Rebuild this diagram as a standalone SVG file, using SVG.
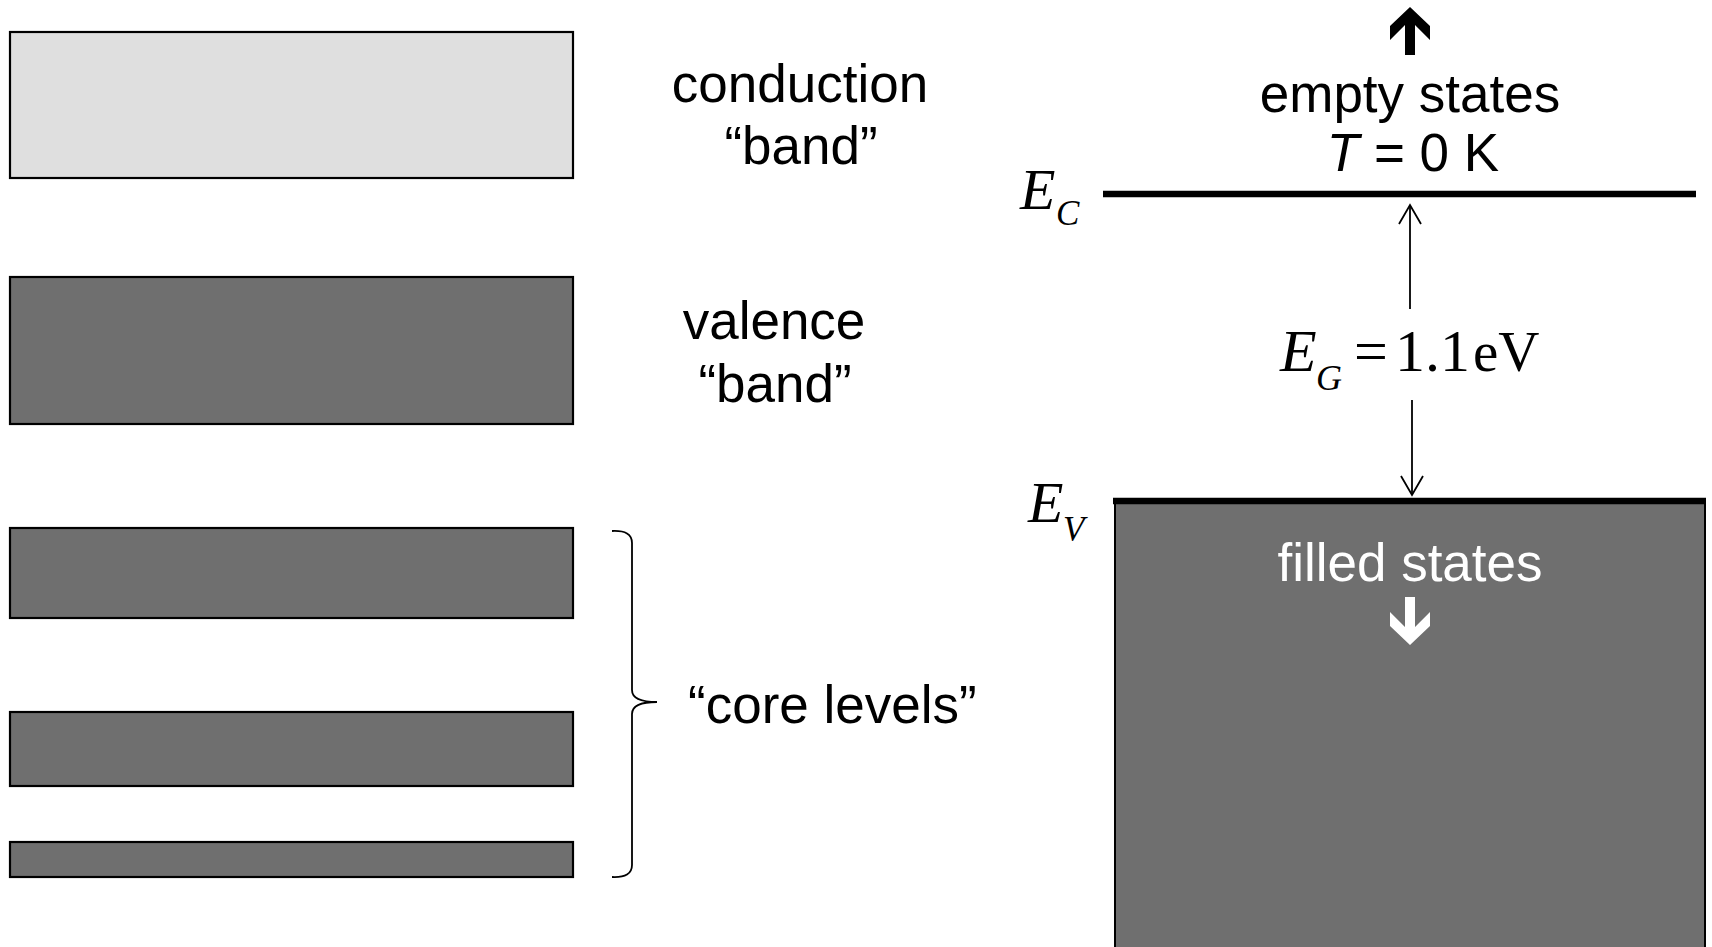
<svg xmlns="http://www.w3.org/2000/svg" width="1712" height="947" viewBox="0 0 1712 947">
<style>
.band{stroke:#000;stroke-width:2.2}
.light{fill:#dfdfdf}
.dark{fill:#6f6f6f}
.lbl{font-family:"Liberation Sans",Arial,sans-serif;font-size:53px;fill:#000}
.math{font-family:"Liberation Serif","Times New Roman",serif;fill:#000}
.thin{stroke:#000;stroke-width:1.8;fill:none}
</style>
<rect width="1712" height="947" fill="#fff"/>
<g id="conduction-band">
<rect class="band light" x="10" y="32" width="563" height="146"/>
<text class="lbl" x="800" y="102" text-anchor="middle">conduction</text>
<text class="lbl" x="801" y="164" text-anchor="middle">“band”</text>
</g>
<g id="valence-band">
<rect class="band dark" x="10" y="277" width="563" height="147"/>
<text class="lbl" x="774" y="339" text-anchor="middle">valence</text>
<text class="lbl" x="775" y="402" text-anchor="middle">“band”</text>
</g>
<g id="core-levels">
<rect class="band dark" x="10" y="528" width="563" height="90"/>
<rect class="band dark" x="10" y="712" width="563" height="74"/>
<rect class="band dark" x="10" y="842" width="563" height="35"/>
<path class="thin" stroke-width="2.2" d="M612,531 Q632,530 632,543 L632,690 Q632,702 657,702 Q632,702 632,714 L632,865 Q632,878 612,877"/>
<text class="lbl" x="688" y="723">“core levels”</text>
</g>
<g id="valence-fill">
<rect class="dark" x="1115" y="503" width="590" height="460" stroke="#000" stroke-width="2"/>
<line x1="1113" y1="501" x2="1706" y2="501" stroke="#000" stroke-width="6.5"/>
<text class="lbl" x="1410" y="581" text-anchor="middle" style="fill:#fff">filled states</text>
<polygon fill="#fff" points="1410,645 1430,626 1430,612 1415,627 1415,597 1405,597 1405,627 1390,612 1390,626"/>
</g>
<g id="ec-level">
<line x1="1103" y1="194" x2="1696" y2="194" stroke="#000" stroke-width="6.5"/>
<text class="math" font-style="italic" font-size="58" x="1020" y="209">E</text>
<text class="math" font-style="italic" font-size="35" x="1056" y="225">C</text>
</g>
<g id="ev-label">
<text class="math" font-style="italic" font-size="58" x="1028" y="522">E</text>
<text class="math" font-style="italic" font-size="35" x="1063" y="541">V</text>
</g>
<g id="empty-states">
<polygon fill="#000" points="1410,7 1430,26 1430,40 1415,25 1415,55 1405,55 1405,25 1390,40 1390,26"/>
<text class="lbl" x="1410" y="112" text-anchor="middle">empty states</text>
<text class="lbl" x="1413" y="171" text-anchor="middle"><tspan font-style="italic">T</tspan> = 0 K</text>
</g>
<g id="gap-label">
<text class="math" font-style="italic" font-size="60" x="1280" y="371">E</text>
<text class="math" font-style="italic" font-size="36" x="1316" y="390">G</text>
<text class="math" font-size="60" x="1354" y="371">=</text>
<text class="math" font-size="60" x="1395" y="371">1.1</text>
<text class="math" font-size="57" x="1473" y="371">eV</text>
</g>
<g id="connectors">
<line class="thin" x1="1410" y1="205" x2="1410" y2="309"/>
<polyline class="thin" points="1399,224 1410,205 1421,224"/>
<line class="thin" x1="1412" y1="400" x2="1412" y2="494"/>
<polyline class="thin" points="1401,476 1412,495 1423,476"/>
</g>
</svg>
